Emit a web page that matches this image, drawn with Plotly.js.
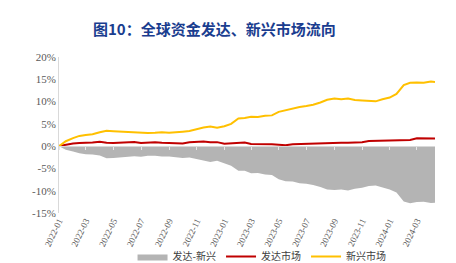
<!DOCTYPE html>
<html><head><meta charset="utf-8">
<script src="https://cdn.plot.ly/plotly-3.0.1.min.js"></script>
<style>html,body{margin:0;padding:0;background:#fff;}#chart{width:456px;height:263px;}</style>
</head><body><div id="chart"></div>
<script>
const dates = ["2022-01-01","2022-01-16","2022-02-01","2022-02-15","2022-03-01","2022-03-16","2022-04-01","2022-04-16","2022-05-01","2022-05-16","2022-06-01","2022-06-16","2022-07-01","2022-07-16","2022-08-01","2022-08-16","2022-09-01","2022-09-16","2022-10-01","2022-10-16","2022-11-01","2022-11-16","2022-12-01","2022-12-16","2023-01-01","2023-01-16","2023-02-01","2023-02-15","2023-03-01","2023-03-16","2023-04-01","2023-04-16","2023-05-01","2023-05-16","2023-06-01","2023-06-16","2023-07-01","2023-07-16","2023-08-01","2023-08-16","2023-09-01","2023-09-16","2023-10-01","2023-10-16","2023-11-01","2023-11-16","2023-12-01","2023-12-16","2024-01-01","2024-01-16","2024-02-01","2024-02-15","2024-03-01","2024-03-16","2024-04-01","2024-04-10"];
const emerging = [0,1.1,1.8,2.3,2.5,2.65,3.1,3.45,3.35,3.25,3.2,3.2,3.1,2.95,3.0,3.1,3.0,3.05,3.25,3.4,3.9,4.2,4.4,4.15,4.45,5.0,6.2,6.3,6.6,6.55,6.8,6.9,7.7,8.1,8.4,8.8,9.0,9.3,9.8,10.4,10.7,10.5,10.7,10.35,10.25,10.1,10.05,10.5,10.9,11.7,13.7,14.2,14.3,14.2,14.5,14.4];
const developed = [0,0.3,0.6,0.7,0.7,0.8,1.0,0.75,0.7,0.75,0.9,0.95,0.7,0.8,0.85,0.75,0.7,0.65,0.6,0.85,1.0,1.05,0.85,0.9,0.55,0.6,0.7,0.8,0.5,0.5,0.45,0.4,0.3,0.2,0.45,0.5,0.55,0.6,0.65,0.7,0.85,0.75,0.75,0.8,0.9,1.15,1.2,1.2,1.2,1.3,1.3,1.4,1.75,1.7,1.75,1.7];
const spread = [0,-0.8,-1.2,-1.6,-1.8,-1.85,-2.1,-2.7,-2.65,-2.5,-2.3,-2.25,-2.4,-2.15,-2.15,-2.35,-2.3,-2.4,-2.65,-2.55,-2.9,-3.15,-3.55,-3.25,-3.9,-4.4,-5.5,-5.5,-6.1,-6.05,-6.35,-6.5,-7.4,-7.9,-7.95,-8.3,-8.45,-8.7,-9.15,-9.7,-9.85,-9.75,-9.95,-9.55,-9.35,-8.95,-8.85,-9.3,-9.7,-10.4,-12.4,-12.8,-12.55,-12.5,-12.75,-12.7];
const tickDates = ["2022-01-01","2022-03-01","2022-05-01","2022-07-01","2022-09-01","2022-11-01","2023-01-01","2023-03-01","2023-05-01","2023-07-01","2023-09-01","2023-11-01","2024-01-01","2024-03-01"];
const tickLabels = ["2022-01","2022-03","2022-05","2022-07","2022-09","2022-11","2023-01","2023-03","2023-05","2023-07","2023-09","2023-11","2024-01","2024-03"];
const yTicks = [-15,-10,-5,0,5,10,15,20];
const yLabels = ["-15%","-10%","-5%","0%","5%","10%","15%","20%"];
const names = ["发达-新兴","发达市场","新兴市场"];

const traces = [
  {x: dates, y: spread, name: names[0], type: 'scatter', mode: 'lines', fill: 'tozeroy', fillcolor: '#b4b4b4', line: {color: '#b4b4b4', width: 0}},
  {x: dates, y: developed, name: names[1], type: 'scatter', mode: 'lines', line: {color: '#c00000', width: 2}},
  {x: dates, y: emerging, name: names[2], type: 'scatter', mode: 'lines', line: {color: '#ffc000', width: 2}},
  {x: dates, y: developed, xaxis: 'x2', showlegend: false, hoverinfo: 'skip', mode: 'lines', line: {width: 0}, opacity: 0}
];
const serif = '"Liberation Serif", "Times New Roman", serif';
const layout = {
  width: 456, height: 263,
  margin: {l: 58.5, r: 21, t: 56.5, b: 50, autoexpand: false},
  paper_bgcolor: '#fff', plot_bgcolor: '#fff',
  title: {text: '图10：全球资金发达、新兴市场流向', x: 0.47, xanchor: 'center', y: 0.885, yanchor: 'middle',
          font: {family: '"Noto Sans CJK SC", sans-serif', size: 15, color: '#1a3d8f', weight: 'bold'}},
  xaxis: {type: 'date', range: ['2022-01-01', '2024-04-10'], tickvals: tickDates, ticktext: tickLabels, tickangle: -64,
          automargin: false, showgrid: false, zeroline: false, showline: false, ticks: '',
          tickfont: {family: serif, size: 9, color: '#595959'}},
  xaxis2: {type: 'date', range: ['2022-01-01', '2024-04-10'], overlaying: 'x', anchor: 'free', position: 0.42857,
           tickvals: tickDates, showticklabels: false, ticks: 'outside', ticklen: 3, tickcolor: '#e6e6e6',
           showline: true, linecolor: '#d9d9d9', linewidth: 1, showgrid: false, zeroline: false, automargin: false},
  yaxis: {range: [-15, 20], tickvals: yTicks, ticktext: yLabels, showgrid: false, zeroline: false, automargin: false,
          showline: true, linecolor: '#d9d9d9', linewidth: 1, ticks: '',
          tickfont: {family: serif, size: 11, color: '#595959'}},
  legend: {orientation: 'h', x: 0.54, xanchor: 'center', yref: 'container', y: 0.08, yanchor: 'top',
           bgcolor: 'rgba(0,0,0,0)',
           font: {family: '"Noto Sans CJK SC", sans-serif', size: 10, color: '#404040'}, itemwidth: 30, tracegroupgap: 0},
  showlegend: true
};
Plotly.newPlot('chart', traces, layout, {displayModeBar: false, staticPlot: true});
</script>
</body></html>
